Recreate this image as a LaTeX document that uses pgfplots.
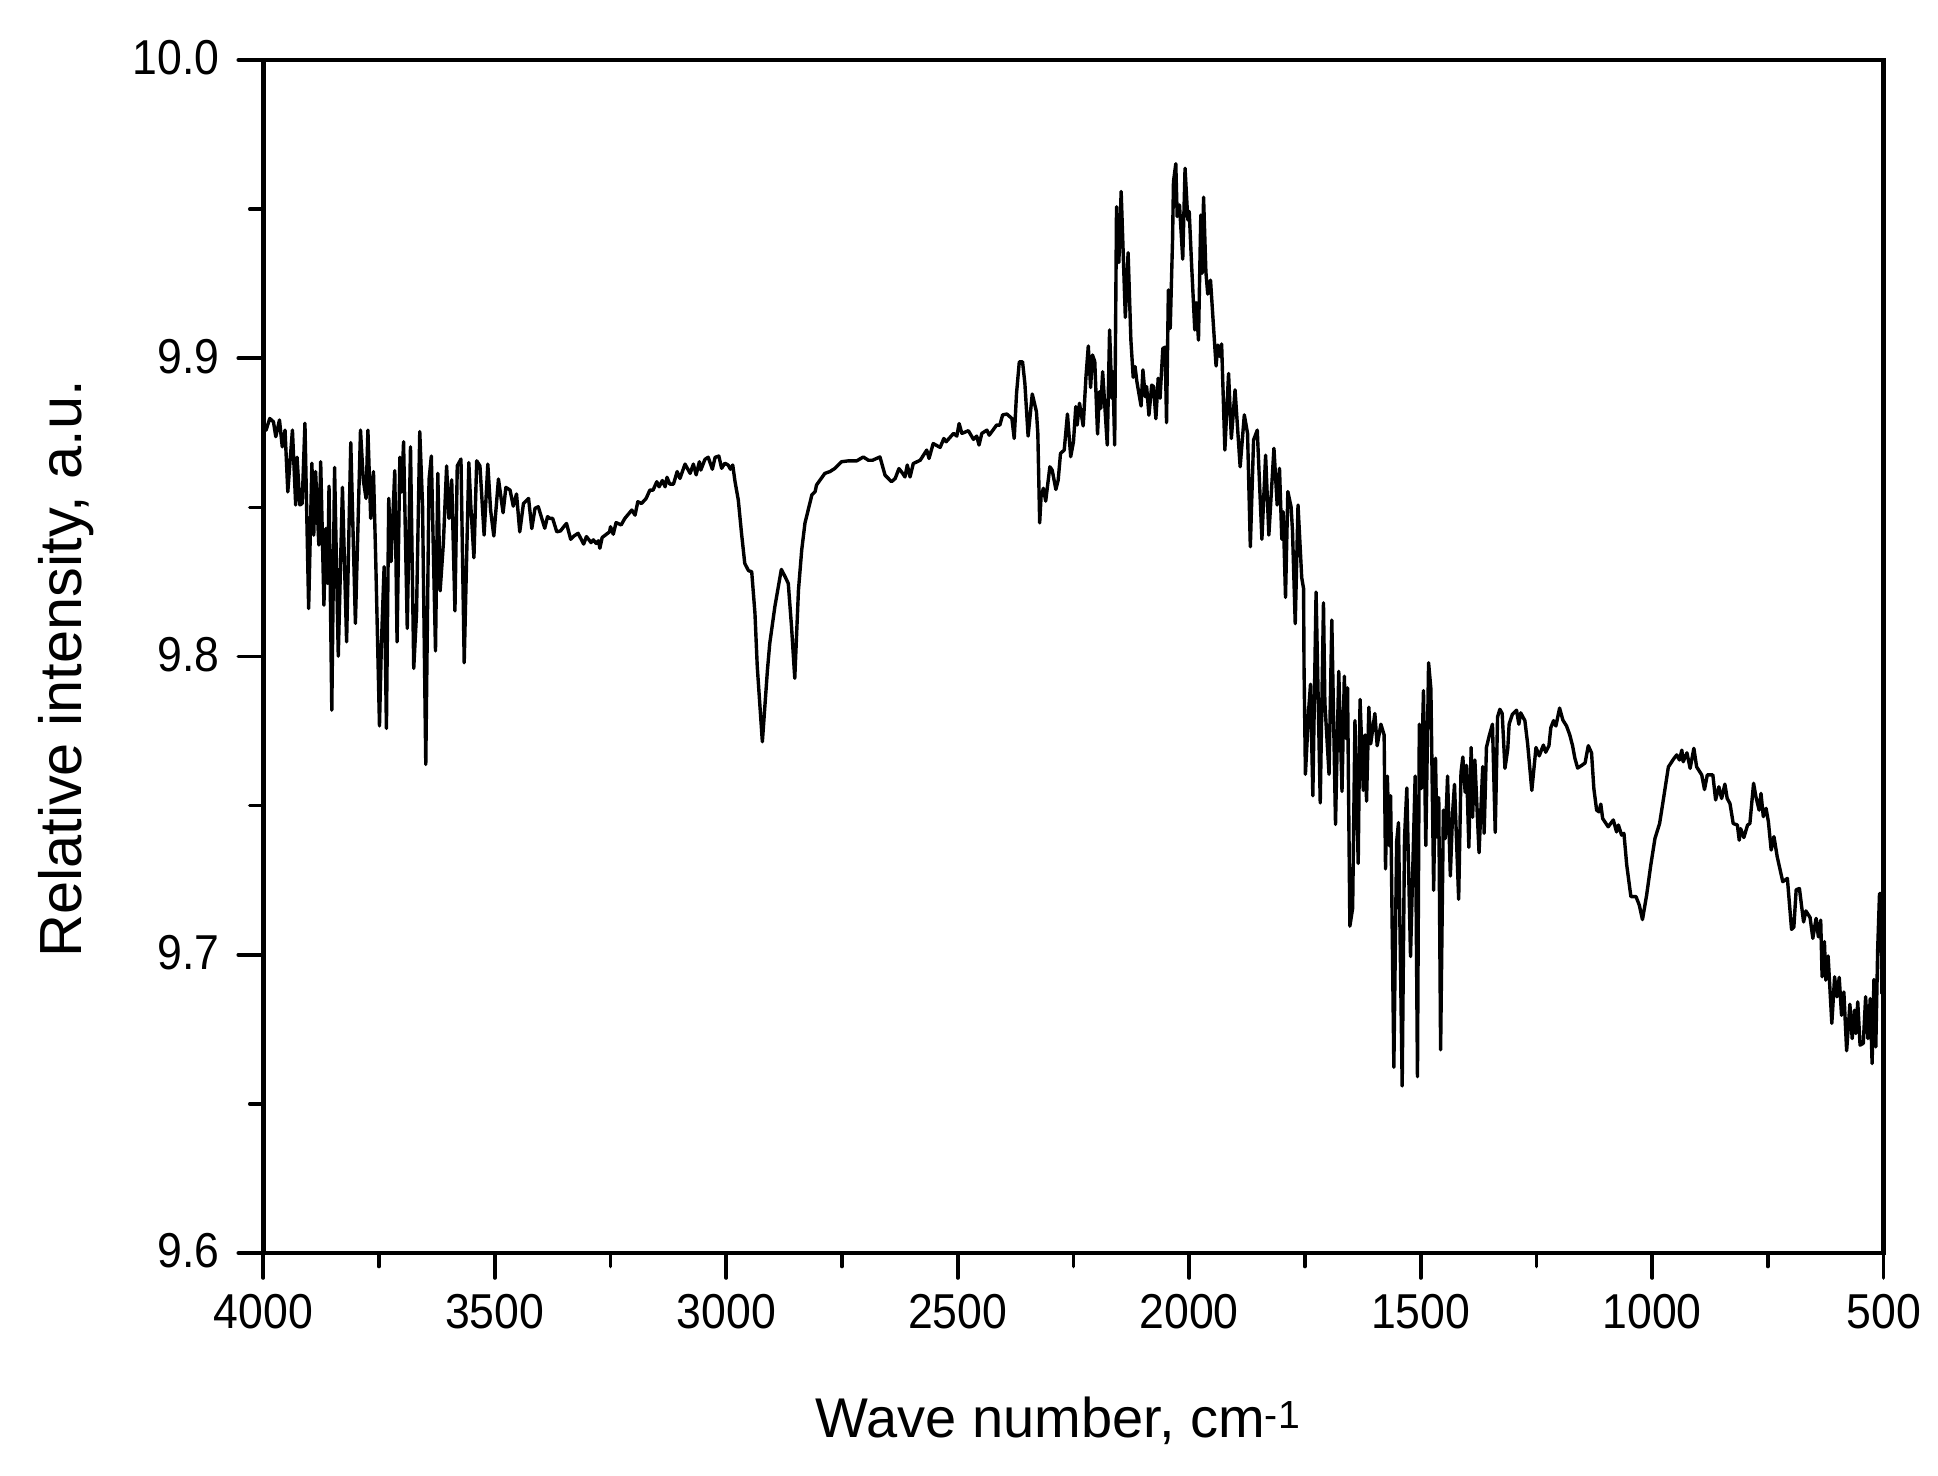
\documentclass[border=0pt]{standalone}
\usepackage{pgfplots}
\usepackage{fontspec}
\setmainfont{Liberation Sans}
\newfontfamily\tickfont[FakeStretch=0.91]{Liberation Sans}
\pgfplotsset{compat=1.18}
\begin{document}
\begin{tikzpicture}
\useasboundingbox (-263.3pt,-222pt) rectangle (1674.7pt,1253pt);
\begin{axis}[
  scale only axis, width=1620.4pt, height=1193pt,
  xmin=500, xmax=4000, ymin=9.6, ymax=10,
  x dir=reverse,
  xtick={500,1000,1500,2000,2500,3000,3500,4000},
  ytick={9.6,9.7,9.8,9.9,10},
  minor x tick num=1, minor y tick num=1,
  xtick pos=bottom, ytick pos=left,
  tick align=outside,
  major tick length=25pt, minor tick length=13.5pt,
  tick style={line width=3.6pt,black,line cap=round},
  axis line style={line width=4.5pt},
  /pgf/number format/assume math mode=true,
  xticklabel style={/pgf/number format/1000 sep={},yshift=-13pt},
  yticklabel style={/pgf/number format/fixed,/pgf/number format/fixed zerofill,/pgf/number format/precision=1,xshift=-15pt,yshift=2pt},
  tick label style={font=\tickfont\fontsize{49}{54}\selectfont},
  label style={font=\fontsize{56}{62}\selectfont},
  xlabel={Wave number, cm\textsuperscript{-1}},
  ylabel={Relative intensity, a.u.},
  xlabel style={at={(axis description cs:0.4905,-0.1410)},anchor=center},
  ylabel style={at={(axis description cs:-0.1215,0.4895)},anchor=center,font=\fontsize{59.5}{64}\selectfont},
]
\addplot[black,line width=3.4pt,line join=round,line cap=round] coordinates {
(4000,9.8770)(3994,9.8759)(3986,9.8798)(3978,9.8787)(3973,9.8737)(3965,9.8793)(3959,9.8703)(3953,9.8759)(3947,9.8552)(3942,9.8659)
(3937,9.8759)(3930,9.8508)(3927,9.8668)(3921,9.8508)(3916,9.8513)(3910,9.8782)(3902,9.8161)(3895,9.8648)(3891,9.8407)(3887,9.8620)
(3880,9.8374)(3876,9.8653)(3869,9.8172)(3865,9.8429)(3861,9.8245)(3858,9.8571)(3852,9.7820)(3846,9.8634)(3838,9.8001)(3829,9.8567)
(3820,9.8049)(3811,9.8717)(3801,9.8111)(3790,9.8759)(3784,9.8592)(3778,9.8530)(3774,9.8759)(3768,9.8463)(3762,9.8620)(3757,9.8318)
(3749,9.7767)(3745,9.8033)(3739,9.8301)(3734,9.7759)(3729,9.8530)(3724,9.8318)(3716,9.8623)(3711,9.8049)(3705,9.8668)(3701,9.8552)
(3697,9.8720)(3689,9.8094)(3682,9.8703)(3675,9.7960)(3669,9.8144)(3662,9.8754)(3656,9.8508)(3649,9.7638)(3642,9.8592)(3637,9.8672)
(3628,9.8019)(3623,9.8614)(3618,9.8220)(3611,9.8379)(3604,9.8639)(3599,9.8463)(3593,9.8592)(3586,9.8153)(3581,9.8639)(3573,9.8662)
(3566,9.7979)(3556,9.8650)(3552,9.8513)(3545,9.8331)(3539,9.8656)(3532,9.8639)(3523,9.8407)(3515,9.8645)(3509,9.8491)(3502,9.8404)
(3492,9.8595)(3482,9.8482)(3476,9.8567)(3467,9.8558)(3460,9.8504)(3453,9.8545)(3446,9.8418)(3438,9.8513)(3427,9.8530)(3420,9.8429)
(3413,9.8497)(3406,9.8502)(3392,9.8430)(3386,9.8469)(3381,9.8463)(3375,9.8463)(3366,9.8418)(3358,9.8421)(3350,9.8437)(3345,9.8446)
(3336,9.8393)(3329,9.8404)(3320,9.8413)(3308,9.8377)(3302,9.8402)(3292,9.8382)(3287,9.8391)(3281,9.8379)(3276,9.8388)(3273,9.8363)
(3268,9.8399)(3252,9.8418)(3250,9.8435)(3244,9.8410)(3238,9.8449)(3227,9.8441)(3219,9.8463)(3204,9.8491)(3197,9.8474)(3191,9.8519)
(3183,9.8513)(3173,9.8530)(3165,9.8558)(3158,9.8558)(3150,9.8586)(3145,9.8569)(3138,9.8590)(3132,9.8569)(3128,9.8601)(3122,9.8578)
(3114,9.8578)(3106,9.8620)(3100,9.8597)(3089,9.8645)(3078,9.8614)(3071,9.8645)(3065,9.8609)(3058,9.8653)(3055,9.8625)(3046,9.8661)
(3039,9.8668)(3030,9.8628)(3024,9.8668)(3016,9.8672)(3010,9.8631)(3003,9.8648)(2996,9.8642)(2991,9.8628)(2986,9.8642)(2981,9.8586)
(2974,9.8525)(2967,9.8413)(2960,9.8312)(2952,9.8288)(2945,9.8284)(2938,9.8145)(2933,9.7966)(2922,9.7714)(2911,9.7955)(2906,9.8044)
(2895,9.8167)(2881,9.8292)(2873,9.8268)(2866,9.8245)(2859,9.8100)(2852,9.7927)(2844,9.8223)(2837,9.8357)(2830,9.8447)(2815,9.8542)
(2808,9.8553)(2805,9.8575)(2787,9.8614)(2776,9.8620)(2765,9.8631)(2751,9.8653)(2736,9.8656)(2718,9.8656)(2704,9.8669)(2693,9.8658)
(2684,9.8658)(2668,9.8669)(2664,9.8647)(2657,9.8608)(2643,9.8586)(2635,9.8597)(2627,9.8630)(2619,9.8614)(2614,9.8602)(2609,9.8642)
(2603,9.8602)(2596,9.8647)(2581,9.8658)(2567,9.8692)(2562,9.8664)(2553,9.8714)(2538,9.8701)(2530,9.8731)(2525,9.8720)(2509,9.8748)
(2502,9.8739)(2497,9.8781)(2491,9.8748)(2477,9.8757)(2466,9.8728)(2459,9.8739)(2454,9.8709)(2448,9.8748)(2437,9.8759)(2432,9.8742)
(2416,9.8776)(2409,9.8776)(2403,9.8810)(2394,9.8813)
(2383,9.8798)(2378,9.8731)(2373,9.8882)(2367,9.8988)(2360,9.8988)(2355,9.8916)(2348,9.8739)(2339,9.8880)(2330,9.8821)(2327,9.8748)
(2323,9.8448)(2320,9.8536)(2315,9.8564)(2310,9.8521)(2301,9.8636)(2296,9.8625)(2288,9.8560)(2283,9.8592)(2278,9.8681)(2270,9.8692)
(2263,9.8813)(2256,9.8670)(2250,9.8720)(2245,9.8838)(2242,9.8776)(2237,9.8849)(2229,9.8773)(2223,9.8938)(2218,9.9041)(2213,9.8902)
(2209,9.9011)(2204,9.8989)(2198,9.8746)(2194,9.8888)(2191,9.8832)(2187,9.8955)(2177,9.8709)(2172,9.9095)(2167,9.8866)(2165,9.8955)
(2161,9.8709)(2157,9.9508)(2152,9.9321)(2147,9.9559)(2138,9.9137)(2132,9.9354)(2126,9.9061)(2121,9.8936)(2117,9.8972)(2113,9.8921)
(2104,9.8840)(2100,9.8961)(2095,9.8871)(2092,9.8905)(2087,9.8809)(2081,9.8910)(2077,9.8905)(2072,9.8797)(2067,9.8933)(2063,9.8866)
(2057,9.9033)(2052,9.9037)(2049,9.8784)(2045,9.9229)(2041,9.9100)(2036,9.9397)(2034,9.9592)(2029,9.9652)(2026,9.9475)(2021,9.9514)
(2014,9.9332)(2009,9.9637)(2003,9.9464)(2000,9.9492)(1995,9.9318)(1988,9.9095)(1985,9.9186)(1980,9.9061)(1975,9.9480)(1972,9.9285)
(1969,9.9540)(1964,9.9290)(1960,9.9215)(1954,9.9262)(1948,9.9117)(1942,9.8974)(1938,9.9044)(1933,9.9005)(1930,9.9048)(1923,9.8692)
(1915,9.8949)(1909,9.8731)(1901,9.8894)(1890,9.8636)(1881,9.8810)(1874,9.8748)(1868,9.8368)(1861,9.8726)(1853,9.8759)(1843,9.8393)
(1835,9.8675)(1828,9.8407)(1817,9.8698)(1810,9.8508)(1805,9.8631)(1800,9.8393)(1797,9.8485)(1792,9.8198)(1787,9.8553)(1780,9.8502)
(1777,9.8424)(1771,9.8110)(1765,9.8508)(1757,9.8264)(1753,9.8228)(1752,9.7964)(1749,9.7605)(1742,9.7821)(1738,9.7907)(1733,9.7533)
(1726,9.8216)(1717,9.7509)(1710,9.8180)(1707,9.7845)(1698,9.7605)(1692,9.8122)(1684,9.7437)(1677,9.7950)(1670,9.7548)(1665,9.7934)
(1661,9.7725)(1658,9.7895)(1653,9.7096)(1647,9.7156)(1642,9.7785)(1635,9.7306)(1631,9.7856)(1624,9.7551)(1620,9.7737)(1617,9.7515)
(1612,9.7830)(1608,9.7707)(1599,9.7809)(1594,9.7701)(1586,9.7773)(1579,9.7737)(1576,9.7288)(1572,9.7599)(1568,9.7366)(1565,9.7533)
(1558,9.6623)(1552,9.7378)(1548,9.7443)(1540,9.6560)(1535,9.7389)(1530,9.7559)(1522,9.6994)(1512,9.7599)(1507,9.6591)(1503,9.7773)
(1499,9.7557)(1494,9.7886)(1489,9.7366)(1483,9.7979)(1478,9.7892)(1472,9.7216)(1468,9.7659)(1465,9.7395)(1461,9.7527)(1457,9.6681)
(1451,9.7485)(1447,9.7389)(1442,9.7599)(1436,9.7264)(1431,9.7479)(1427,9.7571)(1418,9.7186)(1413,9.7611)(1409,9.7663)(1404,9.7545)
(1401,9.7635)(1396,9.7360)(1391,9.7695)(1388,9.7461)(1383,9.7653)(1374,9.7342)(1366,9.7631)(1363,9.7407)(1358,9.7695)(1352,9.7734)
(1345,9.7773)(1339,9.7410)(1334,9.7797)(1329,9.7823)(1324,9.7809)(1318,9.7625)(1312,9.7689)(1309,9.7773)(1302,9.7806)(1293,9.7820)
(1288,9.7773)(1284,9.7811)(1275,9.7785)(1269,9.7707)(1260,9.7551)(1251,9.7695)(1244,9.7667)(1235,9.7703)(1230,9.7679)(1223,9.7701)
(1219,9.7761)(1213,9.7785)(1208,9.7767)(1200,9.7827)(1193,9.7787)(1185,9.7767)(1178,9.7737)(1172,9.7701)(1167,9.7659)(1161,9.7626)
(1152,9.7635)(1145,9.7643)(1138,9.7701)(1131,9.7677)(1126,9.7557)(1120,9.7485)(1115,9.7479)(1111,9.7505)(1107,9.7457)(1095,9.7429)
(1084,9.7452)(1077,9.7412)(1073,9.7435)(1066,9.7401)(1061,9.7407)(1055,9.7301)(1046,9.7195)(1035,9.7195)(1028,9.7167)(1021,9.7118)
(1012,9.7200)(1003,9.7301)(994,9.7390)(984,9.7440)(976,9.7519)(965,9.7630)(953,9.7658)(947,9.7670)(941,9.7653)(936,9.7686)
(933,9.7647)(925,9.7677)(918,9.7625)(910,9.7692)(904,9.7630)(893,9.7603)(887,9.7554)(881,9.7603)(869,9.7603)(863,9.7519)
(856,9.7563)(850,9.7524)(843,9.7572)(838,9.7524)(832,9.7507)(825,9.7440)(816,9.7435)(812,9.7384)(809,9.7423)(802,9.7393)
(794,9.7435)(789,9.7440)(781,9.7575)(776,9.7530)(769,9.7485)(765,9.7541)(760,9.7463)(754,9.7491)(749,9.7446)(743,9.7351)
(737,9.7396)(730,9.7329)(718,9.7245)(708,9.7256)(699,9.7085)(694,9.7093)(689,9.7218)(682,9.7222)(673,9.7110)(668,9.7147)
(659,9.7125)(653,9.7055)(646,9.7122)(641,9.7060)(636,9.7116)(633,9.6926)(628,9.7044)(625,9.6915)(620,9.6996)(612,9.6770)
(606,9.6926)(601,9.6859)(596,9.6924)(591,9.6797)(586,9.6875)(580,9.6678)(573,9.6834)(568,9.6719)(563,9.6814)(560,9.6736)
(556,9.6842)(551,9.6697)(544,9.6703)(539,9.6859)(534,9.6719)(529,9.6853)(525,9.6635)(521,9.6917)(517,9.6691)(513,9.7016)
(509,9.7205)(506,9.7205)(504,9.6870)(502,9.7100)(500,9.7000)
};
\end{axis}
\end{tikzpicture}
\end{document}
